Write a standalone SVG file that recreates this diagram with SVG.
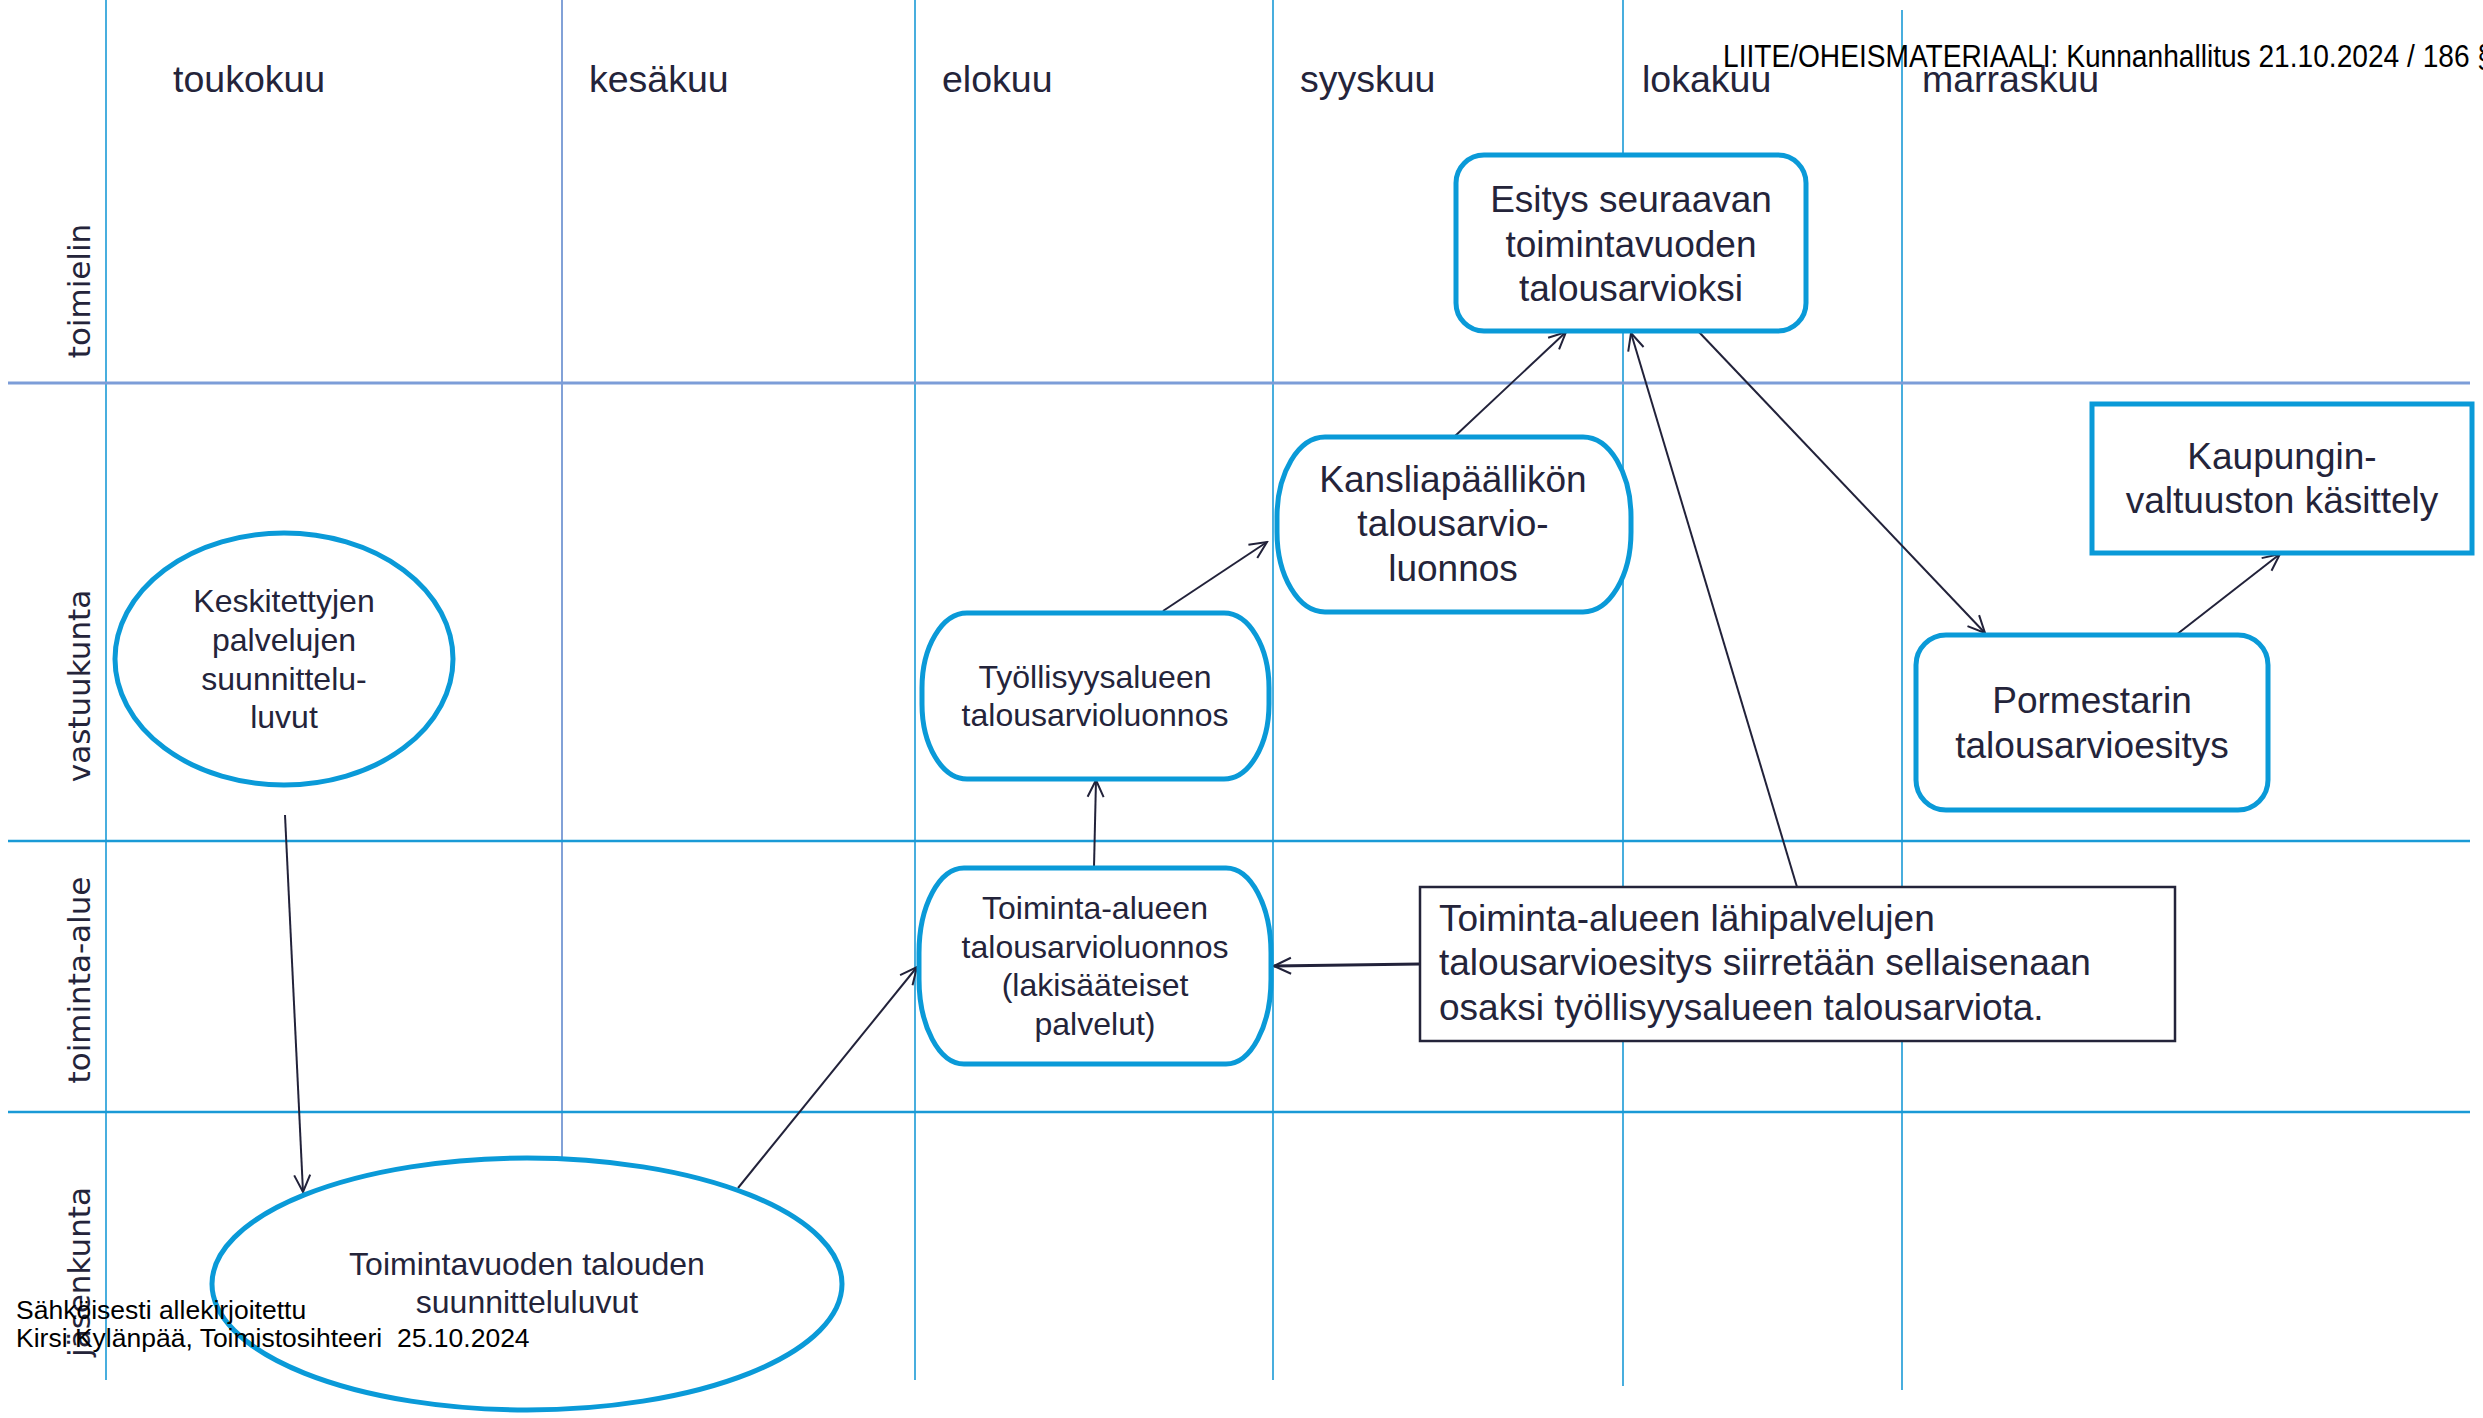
<svg xmlns="http://www.w3.org/2000/svg" width="2483" height="1418" viewBox="0 0 2483 1418">
<defs>
<style>
.vl{stroke:#1a9ad6;stroke-width:1.6;fill:none}
.vl2{stroke:#3f6fc2;stroke-width:1.3;fill:none}
.hl{stroke:#1a9ad6;stroke-width:2.6;fill:none}
.hl1{stroke:#7c9dd8;stroke-width:3;fill:none}
.month{font-family:"Liberation Sans",Arial,sans-serif;font-size:37.5px;fill:#24243a}
.row{font-family:"DejaVu Sans",Verdana,sans-serif;font-size:31px;fill:#24243a;text-anchor:middle}
.node{fill:#ffffff;stroke:#0a9ad8;stroke-width:5}
.t37{font-family:"Liberation Sans",Arial,sans-serif;font-size:37px;fill:#24243a;text-anchor:middle}
.t32{font-family:"Liberation Sans",Arial,sans-serif;font-size:32px;fill:#24243a;text-anchor:middle}
.note{fill:#ffffff;stroke:#24243a;stroke-width:2.5}
.nt{font-family:"Liberation Sans",Arial,sans-serif;font-size:37px;fill:#24243a}
.c{stroke:#22223a;stroke-width:2;fill:none;marker-end:url(#arr)}
.sig{font-family:"Liberation Sans",Arial,sans-serif;font-size:26.5px;fill:#000000}
</style>
<marker id="arr" viewBox="0 0 20 20" refX="18" refY="10" markerWidth="20" markerHeight="20" markerUnits="userSpaceOnUse" orient="auto">
<path d="M1,2 L18,10 L1,18" fill="none" stroke="#22223a" stroke-width="2"/>
</marker>
</defs>

<g id="grid">
<line class="vl" x1="106" y1="0" x2="106" y2="1380"/>
<line class="vl2" x1="562" y1="0" x2="562" y2="1380"/>
<line class="vl" x1="915" y1="0" x2="915" y2="1380"/>
<line class="vl" x1="1273" y1="0" x2="1273" y2="1380"/>
<line class="vl" x1="1623" y1="0" x2="1623" y2="1386"/>
<line class="vl" x1="1902" y1="10" x2="1902" y2="1390"/>
<line class="hl1" x1="8" y1="383" x2="2470" y2="383"/>
<line class="hl" x1="8" y1="841" x2="2470" y2="841"/>
<line class="hl" x1="8" y1="1112" x2="2470" y2="1112"/>
</g>

<g id="months">
<text class="month" x="173" y="92">toukokuu</text>
<text class="month" x="589" y="92">kesäkuu</text>
<text class="month" x="942" y="92">elokuu</text>
<text class="month" x="1300" y="92">syyskuu</text>
<text class="month" x="1642" y="92">lokakuu</text>
<text class="month" x="1922" y="92">marraskuu</text>
</g>

<g id="rows">
<text class="row" transform="translate(90,291) rotate(-90)">toimielin</text>
<text class="row" transform="translate(90,686) rotate(-90)">vastuukunta</text>
<text class="row" transform="translate(90,980) rotate(-90)">toiminta-alue</text>
<text class="row" transform="translate(90,1272) rotate(-90)">jäsenkunta</text>
</g>

<text x="1723" y="67" font-family="'Liberation Sans',Arial,sans-serif" font-size="31" fill="#000000" textLength="770" lengthAdjust="spacingAndGlyphs">LIITE/OHEISMATERIAALI: Kunnanhallitus 21.10.2024 / 186 §</text>

<g id="connectors">
<line class="c" x1="285" y1="815" x2="303" y2="1192"/>
<line class="c" x1="738" y1="1188" x2="917" y2="967"/>
<line class="c" x1="1094" y1="867" x2="1096" y2="780"/>
<line class="c" x1="1163" y1="611" x2="1267" y2="542"/>
<line class="c" x1="1454" y1="437" x2="1566" y2="332"/>
<line class="c" x1="1797" y1="887" x2="1631" y2="333"/>
<line class="c" x1="1698" y1="331" x2="1985" y2="633"/>
<line class="c" x1="2176" y1="635" x2="2280" y2="554"/>
<line class="c" x1="1420" y1="964" x2="1274" y2="966" style="stroke-width:3"/>
</g>

<g id="n-keskitettyjen">
<ellipse class="node" cx="284" cy="659" rx="169" ry="126"/>
<text class="t32" x="284" y="612">Keskitettyjen</text>
<text class="t32" x="284" y="651">palvelujen</text>
<text class="t32" x="284" y="690">suunnittelu-</text>
<text class="t32" x="284" y="728">luvut</text>
</g>

<g id="n-toimintavuoden">
<ellipse class="node" cx="527" cy="1284" rx="315" ry="126"/>
<text class="t32" x="527" y="1275">Toimintavuoden talouden</text>
<text class="t32" x="527" y="1313">suunnitteluluvut</text>
</g>

<g id="n-toiminta-alueen">
<rect class="node" x="919" y="868" width="352" height="196" rx="45" ry="85"/>
<text class="t32" x="1095" y="919">Toiminta-alueen</text>
<text class="t32" x="1095" y="958">talousarvioluonnos</text>
<text class="t32" x="1095" y="996">(lakisääteiset</text>
<text class="t32" x="1095" y="1035">palvelut)</text>
</g>

<g id="n-tyollisyys">
<rect class="node" x="922" y="613" width="347" height="166" rx="45" ry="75"/>
<text class="t32" x="1095" y="688">Työllisyysalueen</text>
<text class="t32" x="1095" y="726">talousarvioluonnos</text>
</g>

<g id="n-kanslia">
<rect class="node" x="1277" y="437" width="354" height="175" rx="48" ry="80"/>
<text class="t37" x="1453" y="492">Kansliapäällikön</text>
<text class="t37" x="1453" y="536">talousarvio-</text>
<text class="t37" x="1453" y="581">luonnos</text>
</g>

<g id="n-esitys">
<rect class="node" x="1456" y="155" width="350" height="176" rx="28"/>
<text class="t37" x="1631" y="212">Esitys seuraavan</text>
<text class="t37" x="1631" y="257">toimintavuoden</text>
<text class="t37" x="1631" y="301">talousarvioksi</text>
</g>

<g id="n-pormestarin">
<rect class="node" x="1916" y="635" width="352" height="175" rx="30"/>
<text class="t37" x="2092" y="713">Pormestarin</text>
<text class="t37" x="2092" y="758">talousarvioesitys</text>
</g>

<g id="n-kaupungin">
<rect class="node" x="2092" y="404" width="380" height="149"/>
<text class="t37" x="2282" y="469">Kaupungin-</text>
<text class="t37" x="2282" y="513">valtuuston käsittely</text>
</g>

<g id="n-note">
<rect class="note" x="1420" y="887" width="755" height="154"/>
<text class="nt" x="1439" y="931">Toiminta-alueen lähipalvelujen</text>
<text class="nt" x="1439" y="975">talousarvioesitys siirretään sellaisenaan</text>
<text class="nt" x="1439" y="1020">osaksi työllisyysalueen talousarviota.</text>
</g>

<g id="signature">
<text class="sig" x="16" y="1319">Sähköisesti allekirjoitettu</text>
<text class="sig" x="16" y="1347" xml:space="preserve">Kirsi Kylänpää, Toimistosihteeri  25.10.2024</text>
</g>
</svg>
